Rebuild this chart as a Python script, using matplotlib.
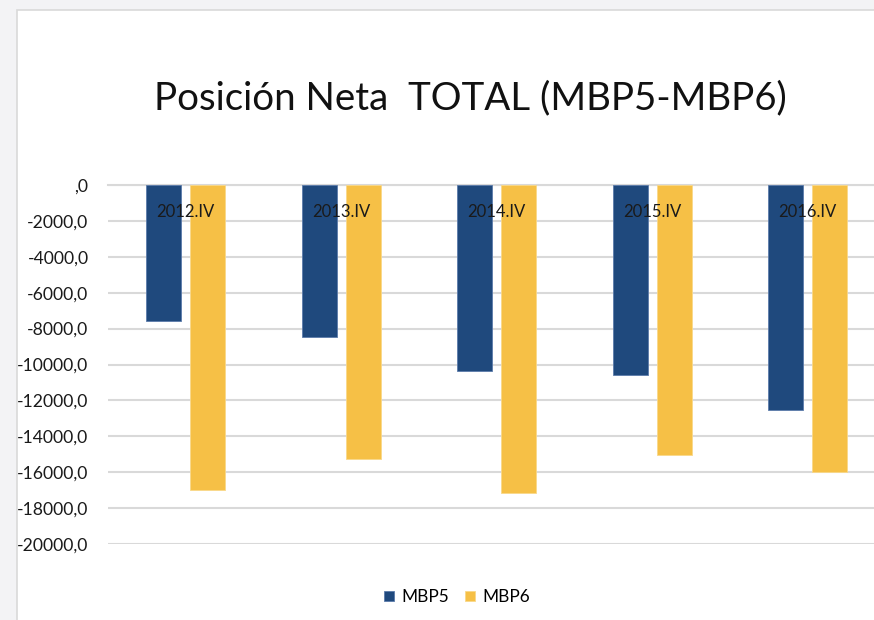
import numpy as np
import matplotlib
matplotlib.use('Agg')
import matplotlib.pyplot as plt
from matplotlib.patches import Rectangle

plt.rcParams['font.family'] = ['Lato', 'DejaVu Sans']

# datos
periodos = ['2012.IV', '2013.IV', '2014.IV', '2015.IV', '2016.IV']
mbp5 = [-7590, -8450, -10360, -10600, -12550]
mbp6 = [-16990, -15260, -17140, -15040, -15970]
yticks = [0, -2000, -4000, -6000, -8000, -10000, -12000, -14000, -16000, -18000, -20000]
ytick_labels = [',0', '-2000,0', '-4000,0', '-6000,0', '-8000,0', '-10000,0',
                '-12000,0', '-14000,0', '-16000,0', '-18000,0', '-20000,0']

W, H = 874, 620
fig = plt.figure(figsize=(W / 100, H / 100), dpi=100)
fig.patch.set_facecolor('#f3f3f5')
# area blanca del grafico
fig.patches.append(Rectangle((17 / W, -0.1), 1.2, 0.1 + (H - 10) / H, transform=fig.transFigure,
                             facecolor='white', edgecolor='#d9d9d9', linewidth=1.2, zorder=-5))

ax = fig.add_axes([108 / W, (H - 544) / H, 777.5 / W, 359 / H])
ax.set_facecolor('none')

x = np.arange(len(periodos))
bw = 0.225
off = 0.1415
ax.bar(x - off, mbp5, bw, color='#1f497d', edgecolor='#5b7bab', linewidth=0.6, label='MBP5', zorder=3)
ax.bar(x + off, mbp6, bw, color='#f6c046', edgecolor='#f9d889', linewidth=0.6, label='MBP6', zorder=3)

ax.set_xlim(-0.5, len(periodos) - 0.5)
ax.set_ylim(-20000, 0)
ax.set_yticks(yticks)
ax.set_yticklabels(ytick_labels, fontsize=12.6, color='#1a1a1a')
ax.set_xticks([])
ax.tick_params(axis='y', length=0, pad=14)
ax.grid(axis='y', color='#d9d9d9', linewidth=1.5, zorder=0)
ax.set_axisbelow(True)
for s in ax.spines.values():
    s.set_visible(False)
ax.spines['top'].set_visible(True)
ax.spines['top'].set_color('#d9d9d9')
ax.spines['top'].set_linewidth(1.5)

# etiquetas de categoria sobre el eje cero
for i, p in enumerate(periodos):
    ax.annotate(p, (i, 0), xytext=(0, -14), textcoords='offset points',
                ha='center', va='top', fontsize=12, color='#1a1a1a', zorder=5)

fig.text(470 / W, 1 - 98 / H, 'Posición Neta  TOTAL (MBP5-MBP6)', ha='center', va='center',
         fontsize=27.7, color='#111111')

leg = fig.legend(loc='center', bbox_to_anchor=(457 / W, 1 - 597 / H), ncol=2, frameon=False,
                 fontsize=12.4, handlelength=0.58, handleheight=0.58, handletextpad=0.4,
                 columnspacing=0.95)

fig.savefig('out.png', dpi=100, facecolor=fig.get_facecolor())
